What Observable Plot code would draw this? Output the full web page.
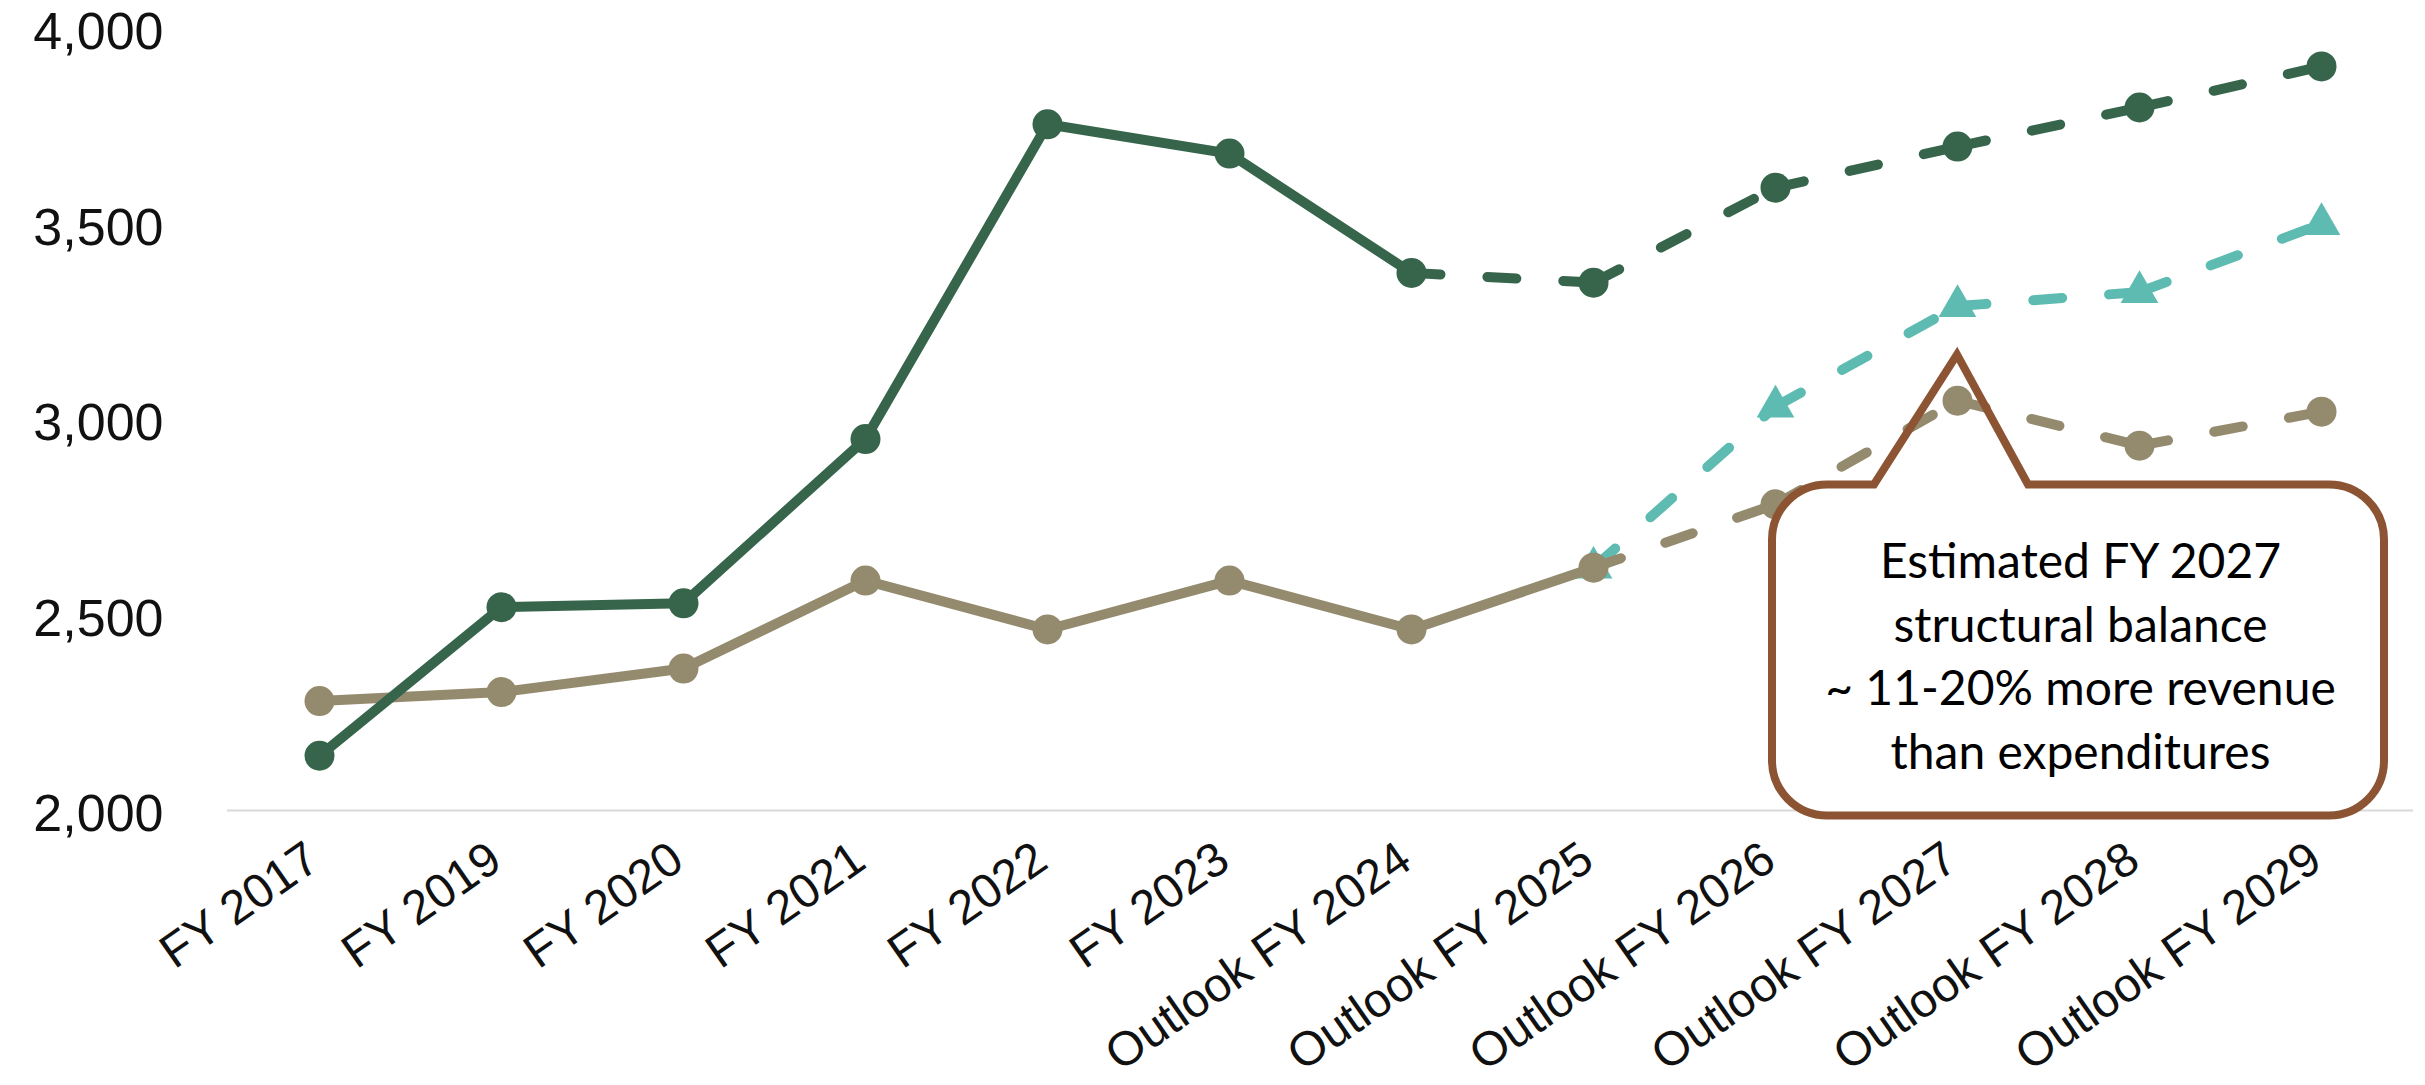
<!DOCTYPE html>
<html><head><meta charset="utf-8">
<script src="https://cdn.jsdelivr.net/npm/d3@7"></script>
<script src="https://cdn.jsdelivr.net/npm/@observablehq/plot@0.6"></script>
<style>html,body{margin:0;padding:0;background:#fff;} #chart svg{display:block}</style>
</head><body><div id="chart"></div>
<script>
// ---- data ----
const categories = ["FY 2017","FY 2019","FY 2020","FY 2021","FY 2022","FY 2023","Outlook FY 2024","Outlook FY 2025","Outlook FY 2026","Outlook FY 2027","Outlook FY 2028","Outlook FY 2029"];
const greenValues = [2140, 2520, 2530, 2950, 3755, 3680, 3375, 3350, 3593, 3698, 3798, 3903];
const tanValues   = [2280, 2303, 2363, 2588, 2463, 2588, 2463, 2621, 2783, 3048, 2933, 3020];
const tealValues  = [null, null, null, null, null, null, null, 2621, 3033, 3290, 3326, 3500];
const greenSolidEnd = 6; // last index drawn solid
const tanSolidEnd = 7;
const tealSolidEnd = 7;
const yTicks = [2000, 2500, 3000, 3500, 4000];
const calloutLines = ["Estimated FY 2027", "structural balance", "~ 11-20% more revenue", "than expenditures"];
const callout = [{x: "Outlook FY 2027", y: 3165, label: calloutLines.join("\n")}];

const colors = {green: "#36654C", tan: "#948A6E", teal: "#5EBBB1", brown: "#8D5434", grid: "#D9D9D9"};

function parts(values, solidEnd) {
  const pts = categories.map((c, i) => ({x: c, y: values[i], i})).filter(d => d.y != null);
  const solid = pts.filter(d => d.i <= solidEnd);
  const dashed = [];
  const tail = pts.filter(d => d.i >= solidEnd);
  for (let k = 0; k < tail.length - 1; k++) {
    dashed.push({...tail[k], seg: k});
    dashed.push({...tail[k + 1], seg: k});
  }
  return {pts, solid, dashed};
}

function seriesMarks(values, solidEnd, color, symbol, r) {
  const p = parts(values, solidEnd);
  const common = {x: "x", y: "y", stroke: color, strokeWidth: 10, strokeLinecap: "round", strokeLinejoin: "round"};
  return [
    p.solid.length > 1 ? Plot.line(p.solid, common) : null,
    Plot.line(p.dashed, {...common, z: "seg", strokeDasharray: "29,47"}),
    Plot.dot(p.pts, {x: "x", y: "y", r, fill: color, symbol})
  ];
}

const calloutShape = (index, scales) => {
  const tx = scales.x(callout[0].x), ty = scales.y(callout[0].y);
  const L = tx - 185, R = tx + 427, T = ty + 130, B = ty + 461, rr = 55, bl = tx - 83, br = tx + 71;
  const ns = "http://www.w3.org/2000/svg";
  const g = document.createElementNS(ns, "g");
  const rect = document.createElementNS(ns, "rect");
  rect.setAttribute("x", L); rect.setAttribute("y", T);
  rect.setAttribute("width", R - L); rect.setAttribute("height", B - T);
  rect.setAttribute("rx", rr); rect.setAttribute("fill", "#fff");
  g.appendChild(rect);
  const path = document.createElementNS(ns, "path");
  const d = `M${L + rr},${T} L${bl},${T} L${tx},${ty} L${br},${T} L${R - rr},${T} A${rr},${rr} 0 0 1 ${R},${T + rr} L${R},${B - rr} A${rr},${rr} 0 0 1 ${R - rr},${B} L${L + rr},${B} A${rr},${rr} 0 0 1 ${L},${B - rr} L${L},${T + rr} A${rr},${rr} 0 0 1 ${L + rr},${T} Z`;
  path.setAttribute("d", d);
  path.setAttribute("fill", "none");
  path.setAttribute("stroke", colors.brown);
  path.setAttribute("stroke-width", 8);
  path.setAttribute("stroke-linejoin", "miter");
  g.appendChild(path);
  return g;
};

const chart = Plot.plot({
  width: 2425,
  height: 1085,
  marginLeft: 227,
  marginRight: 12,
  marginTop: 28,
  marginBottom: 275,
  style: {fontFamily: "'Liberation Sans', Arial, sans-serif", background: "#fff", color: "#111"},
  x: {type: "point", domain: categories, padding: 0.5},
  y: {domain: [2000, 4000]},
  marks: [
    Plot.ruleY([2000], {stroke: colors.grid, strokeWidth: 2}),
    ...seriesMarks(tealValues, tealSolidEnd, colors.teal, "triangle", 14),
    ...seriesMarks(tanValues, tanSolidEnd, colors.tan, "circle", 15),
    ...seriesMarks(greenValues, greenSolidEnd, colors.green, "circle", 15),
    calloutShape,
    Plot.text(callout, {x: "x", y: "y", text: "label", dx: 123, dy: 298, fontSize: 48, lineHeight: 1.327, fontFamily: "Lato", fill: "#000"}),
    Plot.axisY({ticks: yTicks, tickFormat: d3.format(","), tickSize: 0, tickPadding: 64, dy: 4, fontSize: 52, label: null}),
    Plot.axisX({tickSize: 0, tickPadding: 43, dx: -6, tickRotate: -35, fontSize: 48, label: null})
  ].filter(Boolean)
});
document.getElementById("chart").appendChild(chart);
</script>
</body></html>
